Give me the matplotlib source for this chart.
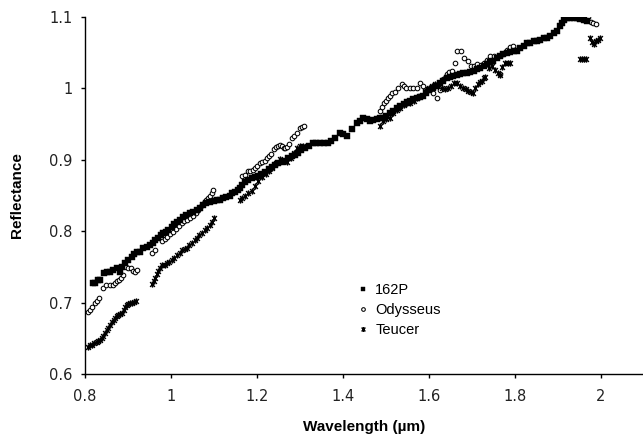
import matplotlib
matplotlib.use("Agg")
import matplotlib.pyplot as plt
from matplotlib.path import Path
import numpy as np

# ---------------- data ----------------
p162_x = [0.818, 0.824, 0.830, 0.836, 0.845, 0.851, 0.858, 0.866, 0.874, 0.881, 0.887, 0.893,
          0.900, 0.909, 0.915, 0.921, 0.928, 0.936, 0.944, 0.951, 0.957, 0.963, 0.970, 0.976,
          0.981, 0.988, 0.994, 1.002, 1.008, 1.014, 1.021, 1.028, 1.036, 1.044, 1.052, 1.060,
          1.067, 1.074, 1.082, 1.091, 1.099, 1.107, 1.114, 1.121, 1.129, 1.137, 1.143, 1.149,
          1.155, 1.160, 1.166, 1.172, 1.180, 1.188, 1.195, 1.202, 1.210, 1.219, 1.227, 1.235,
          1.242, 1.249, 1.257, 1.265, 1.273, 1.281, 1.288, 1.295, 1.303, 1.312, 1.321, 1.330,
          1.338, 1.347, 1.356, 1.365, 1.373, 1.381, 1.393, 1.401, 1.409, 1.420, 1.432, 1.440,
          1.447, 1.455, 1.463, 1.470, 1.478, 1.486, 1.493, 1.501, 1.509, 1.517, 1.525, 1.533,
          1.541, 1.549, 1.556, 1.563, 1.571, 1.579, 1.586, 1.594, 1.601, 1.609, 1.617, 1.625,
          1.633, 1.641, 1.648, 1.656, 1.664, 1.672, 1.680, 1.688, 1.696, 1.704, 1.712, 1.719,
          1.727, 1.734, 1.742, 1.749, 1.757, 1.765, 1.773, 1.781, 1.789, 1.797, 1.805, 1.812,
          1.820, 1.828, 1.836, 1.844, 1.851, 1.859, 1.867, 1.874, 1.882, 1.890, 1.898, 1.904,
          1.909, 1.915, 1.921, 1.929, 1.937, 1.944, 1.952, 1.960, 1.967]
p162_y = [0.727, 0.728, 0.731, 0.732, 0.742, 0.743, 0.743, 0.746, 0.748, 0.743, 0.750, 0.755,
          0.759, 0.764, 0.768, 0.771, 0.771, 0.776, 0.778, 0.780, 0.784, 0.787, 0.790, 0.794,
          0.797, 0.799, 0.802, 0.806, 0.810, 0.813, 0.816, 0.820, 0.822, 0.825, 0.827, 0.829,
          0.833, 0.836, 0.839, 0.841, 0.842, 0.843, 0.844, 0.846, 0.848, 0.850, 0.853, 0.855,
          0.858, 0.860, 0.865, 0.869, 0.872, 0.874, 0.876, 0.878, 0.880, 0.883, 0.887, 0.890,
          0.893, 0.895, 0.897, 0.899, 0.902, 0.905, 0.907, 0.910, 0.914, 0.917, 0.920, 0.923,
          0.924, 0.924, 0.924, 0.924, 0.927, 0.930, 0.937, 0.936, 0.934, 0.943, 0.951, 0.955,
          0.958, 0.957, 0.955, 0.956, 0.957, 0.958, 0.959, 0.962, 0.966, 0.969, 0.973, 0.976,
          0.978, 0.981, 0.983, 0.985, 0.987, 0.988, 0.990, 0.994, 0.998, 1.001, 1.004, 1.008,
          1.011, 1.014, 1.016, 1.018, 1.019, 1.020, 1.021, 1.021, 1.023, 1.025, 1.027, 1.028,
          1.031, 1.034, 1.037, 1.039, 1.042, 1.045, 1.048, 1.050, 1.051, 1.052, 1.053, 1.056,
          1.060, 1.063, 1.064, 1.066, 1.067, 1.068, 1.070, 1.071, 1.074, 1.077, 1.081, 1.087,
          1.092, 1.096, 1.099, 1.099, 1.098, 1.098, 1.097, 1.096, 1.095]

odysseus_x = [0.806, 0.811, 0.816, 0.823, 0.828, 0.833, 0.841, 0.849, 0.858, 0.864, 0.870, 0.875,
              0.879, 0.884, 0.888, 0.895, 0.901, 0.906, 0.911, 0.916, 0.920,
              0.956, 0.963, 0.979, 0.985, 0.990, 0.997, 1.005, 1.012, 1.018, 1.025, 1.031, 1.038,
              1.044, 1.051, 1.057, 1.062, 1.067, 1.072, 1.077, 1.081, 1.086, 1.091, 1.095, 1.098,
              1.165, 1.172, 1.178, 1.184, 1.190, 1.195, 1.201, 1.207, 1.212, 1.218, 1.223, 1.228,
              1.233, 1.240, 1.245, 1.249, 1.254, 1.258, 1.262, 1.265, 1.270, 1.274, 1.281, 1.287,
              1.293, 1.300, 1.305, 1.309,
              1.486, 1.491, 1.495, 1.500, 1.505, 1.509, 1.514, 1.521, 1.528, 1.537, 1.542, 1.547,
              1.556, 1.563, 1.572, 1.579, 1.586, 1.598, 1.609, 1.619, 1.626, 1.633, 1.637, 1.642,
              1.647, 1.653, 1.660, 1.665, 1.674, 1.681, 1.691, 1.698, 1.705, 1.712, 1.720, 1.727,
              1.735, 1.742, 1.750, 1.765, 1.772, 1.781, 1.788, 1.795,
              1.970, 1.976, 1.982, 1.988]
odysseus_y = [0.687, 0.690, 0.694, 0.699, 0.702, 0.706, 0.720, 0.724, 0.724, 0.725, 0.727, 0.730,
              0.731, 0.735, 0.738, 0.750, 0.748, 0.748, 0.744, 0.743, 0.745,
              0.769, 0.773, 0.786, 0.789, 0.792, 0.796, 0.799, 0.803, 0.807, 0.811, 0.814, 0.816,
              0.818, 0.821, 0.826, 0.830, 0.834, 0.837, 0.840, 0.843, 0.846, 0.850, 0.853, 0.858,
              0.878, 0.879, 0.884, 0.885, 0.886, 0.888, 0.892, 0.896, 0.897, 0.899, 0.902, 0.905,
              0.908, 0.915, 0.918, 0.920, 0.921, 0.920, 0.917, 0.916, 0.918, 0.922, 0.930, 0.934,
              0.937, 0.944, 0.946, 0.947,
              0.969, 0.974, 0.979, 0.983, 0.986, 0.990, 0.994, 0.995, 1.000, 1.006, 1.003, 1.000,
              1.000, 1.000, 1.001, 1.008, 1.004, 0.998, 0.993, 0.986, 0.998, 1.013, 1.015, 1.020,
              1.023, 1.025, 1.035, 1.052, 1.052, 1.042, 1.038, 1.031, 1.031, 1.034, 1.033, 1.035,
              1.040, 1.045, 1.046, 1.020, 1.048, 1.054, 1.058, 1.060,
              1.100, 1.093, 1.091, 1.090]

teucer_x = [0.806, 0.811, 0.816, 0.822, 0.827, 0.831, 0.835, 0.840, 0.843, 0.847, 0.851, 0.854,
            0.858, 0.863, 0.867, 0.870, 0.874, 0.877, 0.881, 0.886, 0.890, 0.893, 0.897, 0.900,
            0.905, 0.909, 0.914, 0.919,
            0.956, 0.960, 0.963, 0.967, 0.970, 0.975, 0.979, 0.985, 0.990, 0.996, 1.002, 1.008,
            1.014, 1.020, 1.026, 1.032, 1.037, 1.043, 1.049, 1.055, 1.060, 1.066, 1.072, 1.078,
            1.084, 1.090, 1.095, 1.099,
            1.160, 1.166, 1.172, 1.180, 1.188, 1.195, 1.203, 1.212, 1.220, 1.228, 1.236, 1.245,
            1.253, 1.262, 1.270, 1.278, 1.286, 1.293, 1.300, 1.307,
            1.486, 1.494, 1.501, 1.509, 1.517, 1.525, 1.533, 1.541, 1.549, 1.556, 1.564, 1.572,
            1.580, 1.591, 1.599, 1.607, 1.614, 1.622, 1.630, 1.637, 1.644, 1.651, 1.658, 1.665,
            1.672, 1.679, 1.686, 1.691, 1.697, 1.702, 1.708, 1.714, 1.719, 1.723, 1.727, 1.730,
            1.740, 1.747, 1.753, 1.760, 1.765, 1.770, 1.777, 1.783, 1.788,
            1.950, 1.955, 1.960, 1.965, 1.974, 1.979, 1.983, 1.988, 1.993, 1.998]
teucer_y = [0.638, 0.640, 0.641, 0.643, 0.645, 0.646, 0.648, 0.651, 0.653, 0.657, 0.661, 0.664,
            0.668, 0.673, 0.676, 0.678, 0.681, 0.683, 0.684, 0.685, 0.690, 0.694, 0.696, 0.698,
            0.699, 0.699, 0.701, 0.702,
            0.726, 0.730, 0.734, 0.740, 0.744, 0.748, 0.752, 0.753, 0.755, 0.757, 0.759, 0.763,
            0.766, 0.770, 0.773, 0.775, 0.776, 0.780, 0.783, 0.787, 0.790, 0.794, 0.797, 0.801,
            0.804, 0.809, 0.813, 0.818,
            0.843, 0.847, 0.850, 0.854, 0.857, 0.864, 0.870, 0.876, 0.880, 0.884, 0.889, 0.895,
            0.901, 0.899, 0.897, 0.903, 0.910, 0.916, 0.919, 0.920,
            0.947, 0.955, 0.957, 0.959, 0.966, 0.970, 0.973, 0.977, 0.979, 0.980, 0.983, 0.987,
            0.990, 0.997, 1.000, 1.004, 1.006, 1.004, 1.001, 0.999, 1.000, 1.004, 1.007, 1.007,
            1.004, 1.001, 0.999, 0.997, 0.995, 0.994, 1.000, 1.006, 1.009, 1.011, 1.014, 1.016,
            1.028, 1.032, 1.026, 1.022, 1.019, 1.030, 1.035, 1.035, 1.035,
            1.041, 1.041, 1.041, 1.041, 1.071, 1.065, 1.062, 1.066, 1.068, 1.071]

series_labels = ["162P", "Odysseus", "Teucer"]
x_ticks = [0.8, 1.0, 1.2, 1.4, 1.6, 1.8, 2.0]
x_tick_labels = ["0.8", "1", "1.2", "1.4", "1.6", "1.8", "2"]
y_ticks = [0.6, 0.7, 0.8, 0.9, 1.0, 1.1]
y_tick_labels = ["0.6", "0.7", "0.8", "0.9", "1", "1.1"]

# ---------------- figure ----------------
W, H = 643, 434
fig = plt.figure(figsize=(W / 100, H / 100), dpi=100)
ax_w_px = 643 - 85
ax = fig.add_axes([85 / W, 1 - 374 / H, ax_w_px / W, (374 - 17) / H])

# Excel-style "star" marker: an x with a vertical bar
star_path = Path([(-1, -1), (1, 1), (-1, 1), (1, -1), (0, -1.3), (0, 1.3)],
                 [Path.MOVETO, Path.LINETO, Path.MOVETO, Path.LINETO, Path.MOVETO, Path.LINETO])

ax.plot(p162_x, p162_y, linestyle="none", marker="s", markersize=4.0,
        markerfacecolor="black", markeredgecolor="black", markeredgewidth=0.3,
        label=series_labels[0], zorder=3)
ax.plot(odysseus_x, odysseus_y, linestyle="none", marker="o", markersize=3.3,
        markerfacecolor="white", markeredgecolor="black", markeredgewidth=0.75,
        label=series_labels[1], zorder=2)
ax.plot(teucer_x, teucer_y, linestyle="none", marker=star_path, markersize=4.5,
        markerfacecolor="none", markeredgecolor="black", markeredgewidth=1.0,
        label=series_labels[2], zorder=2)

ax.set_xlim(0.8, 0.8 + ax_w_px / 430)
ax.set_ylim(0.6, 1.1)
ax.set_xticks(x_ticks)
ax.set_xticklabels(x_tick_labels)
ax.set_yticks(y_ticks)
ax.set_yticklabels(y_tick_labels)

for s in ["top", "right"]:
    ax.spines[s].set_visible(False)
for s in ["left", "bottom"]:
    ax.spines[s].set_linewidth(1.0)
    ax.spines[s].set_color("black")

ax.tick_params(axis="both", direction="out", length=3, width=1.0, colors="black",
               labelsize=10.5)
ax.tick_params(axis="y", pad=6)
ax.tick_params(axis="x", pad=8)
for lab in ax.get_xticklabels() + ax.get_yticklabels():
    lab.set_fontfamily("DejaVu Sans")
    lab.set_color("#222222")

ax.set_xlabel("Wavelength (µm)", fontsize=11, fontweight="bold",
              fontfamily="Liberation Sans", labelpad=11)
ax.set_ylabel("Reflectance", fontsize=11, fontweight="bold",
              fontfamily="Liberation Sans")
ax.yaxis.set_label_coords((24 - 85) / ax_w_px, 0.5)

leg = ax.legend(loc="upper left", bbox_to_anchor=(349 / W, 1 - 273 / H),
                bbox_transform=fig.transFigure, frameon=False,
                prop={"family": "Liberation Sans", "size": 10.5},
                handlelength=0.5, handletextpad=0.6, labelspacing=0.42,
                markerscale=0.8, borderpad=0.2)

fig.savefig("out.png", dpi=100)
